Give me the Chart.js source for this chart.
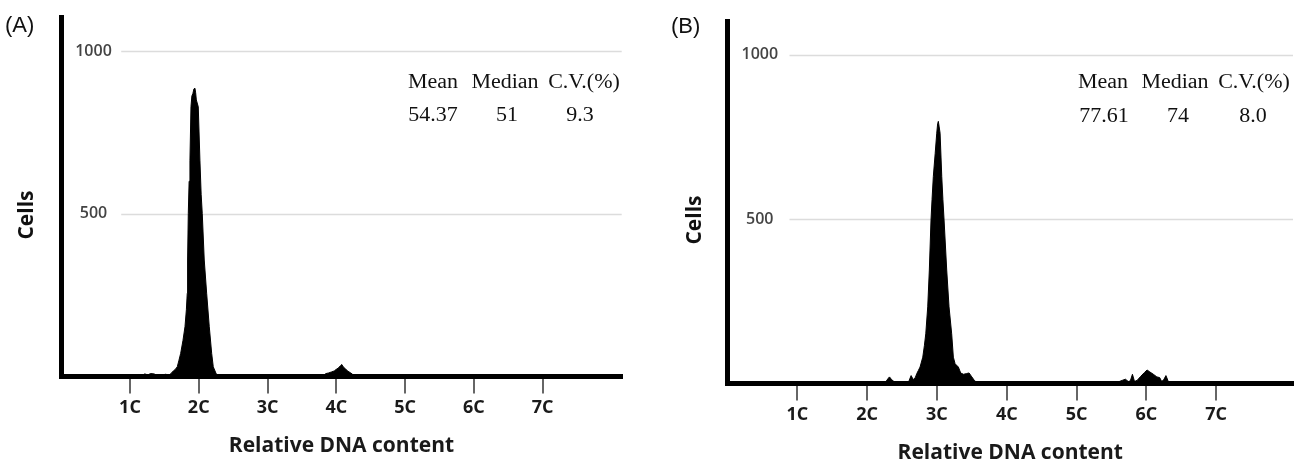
<!DOCTYPE html>
<html>
<head>
<meta charset="utf-8">
<title>Relative DNA content histograms</title>
<script src="https://cdn.jsdelivr.net/npm/chart.js@4.4.1/dist/chart.umd.min.js"></script>
<style>
  html, body {
    margin: 0;
    padding: 0;
    background: #fff;
    width: 1304px;
    height: 464px;
    overflow: hidden;
    position: relative;
  }
  .panel { position: absolute; top: 0; }
  #panel-a { left: 0; width: 650px; height: 464px; }
  #panel-b { left: 660px; width: 644px; height: 466px; }
  .tag {
    position: absolute;
    font: 22px/22px "Liberation Sans", Arial, sans-serif;
    color: #111;
  }
  .ytitle {
    position: absolute;
    font: bold 21px/21px "Open Sans", sans-serif;
    color: #111;
    white-space: nowrap;
    transform: translate(-50%, -50%) rotate(-90deg);
  }
  .stat {
    position: absolute;
    font: 20px/20px "Liberation Serif", "Times New Roman", serif;
    color: #111;
    white-space: nowrap;
    transform: translateX(-50%) scaleX(1.1);
  }
</style>
</head>
<body>
<div id="panel-a" class="panel"><canvas id="chartA"></canvas></div>
<div id="panel-b" class="panel"><canvas id="chartB"></canvas></div>
<span class="tag" style="left:5px; top:14px;">(A)</span>
<span class="tag" style="left:671px; top:15px;">(B)</span>
<span class="ytitle" style="left:25px; top:215px;">Cells</span>
<span class="ytitle" style="left:693px; top:220px;">Cells</span>

<script>
// x in units of C (DNA content), y in number of cells
const dnaTicks = [1, 2, 3, 4, 5, 6, 7];
const cellTicks = [500, 1000];

const histA_dna = [
  0, 1.10, 1.13, 1.17, 1.215, 1.26, 1.30, 1.35, 1.39, 1.43, 1.47, 1.51, 1.54, 1.57,
  1.60, 1.63, 1.66, 1.688, 1.71, 1.737, 1.77, 1.80, 1.82, 1.833, 1.838, 1.848, 1.86,
  1.872, 1.887, 1.90, 1.915, 1.93, 1.945, 1.955, 1.965, 1.993, 2.017, 2.035, 2.051,
  2.080, 2.115, 2.153, 2.188, 2.211, 2.25, 2.29,
  3.78, 3.81, 3.85, 3.89, 3.93, 3.97, 4.00, 4.03, 4.06, 4.08, 4.10, 4.135, 4.17,
  4.21, 4.24, 4.27, 4.31, 4.35, 4.40, 8.15
];
const histA_cells = [
  0, 0, 6, 3, 8, 5, 9, 8, 4, 5, 3, 7, 6, 4,
  10, 17, 22, 30, 48, 71, 110, 153, 205, 256, 358, 501, 600,
  665, 829, 862, 870, 884, 886, 872, 850, 829, 665, 560, 501,
  358, 256, 153, 71, 30, 10, 0,
  0, 3, 9, 11, 14, 17, 22, 26, 33, 37, 30, 23, 16,
  11, 6, 3, 2, 4, 0, 0
];

const histB_dna = [
  0, 2.24, 2.27, 2.30, 2.32, 2.35, 2.40, 2.44, 2.58, 2.60, 2.63, 2.66, 2.69, 2.711,
  2.735, 2.758, 2.797, 2.82, 2.840, 2.868, 2.891, 2.915, 2.93, 2.948, 2.975, 2.997,
  3.010, 3.020, 3.032, 3.045, 3.069, 3.085, 3.102, 3.140, 3.173, 3.211, 3.235, 3.26,
  3.307, 3.34, 3.38, 3.42, 3.46, 3.50, 3.54, 3.58, 3.62, 3.66, 3.70, 3.74,
  5.55, 5.60, 5.66, 5.70, 5.74, 5.77, 5.80, 5.83, 5.87, 5.92, 5.97, 6.01, 6.05,
  6.10, 6.15, 6.19, 6.22, 6.25, 6.28, 6.31, 6.34, 8.10
];
const histB_cells = [
  0, 0, 6, 15, 20, 12, 3, 0, 0, 8, 24, 12, 18, 30,
  40, 50, 80, 115, 151, 233, 345, 497, 560, 629, 700, 761,
  790, 797, 780, 761, 629, 560, 497, 345, 233, 151, 80, 60,
  50, 32, 28, 30, 32, 20, 8, 3, 5, 5, 2, 0,
  0, 5, 10, 13, 6, 8, 28, 6, 10, 22, 33, 41, 35,
  28, 20, 18, 6, 12, 24, 8, 0, 0
];

const statHeaders = ['Mean', 'Median', 'C.V.(%)'];
const statsA = ['54.37', '51', '9.3'];
const statsB = ['77.61', '74', '8.0'];

// grid lines start a little to the right of the axis, after the tick labels
const insetGrid = {
  id: 'insetGrid',
  beforeDatasetsDraw(chart, args, opts) {
    const { ctx, chartArea, scales } = chart;
    const y = scales.y;
    ctx.save();
    ctx.strokeStyle = opts.color;
    ctx.lineWidth = opts.width;
    y.ticks.forEach((tick) => {
      const py = Math.round(y.getPixelForValue(tick.value)) + 0.5;
      ctx.beginPath();
      ctx.moveTo(chartArea.left + opts.inset, py);
      ctx.lineTo(chartArea.right, py);
      ctx.stroke();
    });
    ctx.restore();
  }
};

function makeHistogram(canvasId, dna, cells, opts) {
  const points = dna.map((x, i) => ({ x, y: cells[i] }));
  return new Chart(document.getElementById(canvasId), {
    type: 'line',
    data: {
      datasets: [{
        data: points,
        borderColor: '#000',
        backgroundColor: '#000',
        borderWidth: 1,
        fill: 'origin',
        pointRadius: 0,
        tension: 0
      }]
    },
    options: {
      responsive: true,
      maintainAspectRatio: false,
      animation: false,
      layout: {
        autoPadding: false,
        padding: { top: opts.top, right: opts.right, left: 0, bottom: 0 }
      },
      plugins: {
        legend: { display: false },
        tooltip: { enabled: false },
        insetGrid: { color: '#dcdcdc', width: 1.5, inset: opts.gridInset }
      },
      scales: {
        x: {
          type: 'linear',
          min: 0,
          max: opts.xMax,
          afterBuildTicks: (scale) => {
            scale.ticks = dnaTicks.map((v) => ({ value: v }));
          },
          afterFit: (scale) => {
            scale.height = opts.xHeight;
            scale.paddingLeft = 0;
            scale.paddingRight = 0;
          },
          ticks: {
            callback: (v) => v + 'C',
            color: '#1a1a1a',
            padding: 4,
            maxRotation: 0,
            font: { family: 'Open Sans', size: 18, weight: 'bold' }
          },
          grid: {
            display: true,
            drawOnChartArea: false,
            drawTicks: true,
            tickLength: 17,
            tickWidth: 2,
            tickColor: '#666',
            color: '#666',
            lineWidth: 2
          },
          border: { display: true, color: '#000', width: 5, z: 1 },
          title: {
            display: true,
            text: 'Relative DNA content',
            color: '#1a1a1a',
            padding: { top: 0, bottom: opts.titlePad },
            font: { family: 'Open Sans', size: 21, weight: 'bold' }
          }
        },
        y: {
          min: 0,
          max: opts.yMax,
          afterBuildTicks: (scale) => {
            scale.ticks = cellTicks.map((v) => ({ value: v }));
          },
          afterFit: (scale) => {
            scale.width = opts.yWidth;
            scale.paddingTop = 0;
            scale.paddingBottom = 0;
          },
          ticks: {
            callback: (v) => String(v),
            mirror: true,
            crossAlign: 'center',
            padding: 14,
            color: '#444',
            font: { family: 'Open Sans', size: 16, weight: '600' }
          },
          grid: { display: true, drawTicks: false, color: 'rgba(0,0,0,0)' },
          border: { display: true, color: '#000', width: 5, z: 1 }
        }
      }
    },
    plugins: [insetGrid]
  });
}

function renderStats(headers, values, layout) {
  headers.forEach((text, i) => {
    const head = document.createElement('span');
    head.className = 'stat';
    head.textContent = text;
    head.style.left = layout.headX[i] + 'px';
    head.style.top = layout.headTop + 'px';
    document.body.append(head);

    const val = document.createElement('span');
    val.className = 'stat';
    val.textContent = values[i];
    val.style.left = layout.valX[i] + 'px';
    val.style.top = layout.valTop + 'px';
    document.body.append(val);
  });
}

makeHistogram('chartA', histA_dna, histA_cells, {
  top: 17, right: 28.3, yWidth: 61.2, xHeight: 87.5,
  xMax: 8.15, yMax: 1105, gridInset: 60, titlePad: 5
});
makeHistogram('chartB', histB_dna, histB_cells, {
  top: 21.7, right: 11, yWidth: 67.5, xHeight: 82.5,
  xMax: 8.1, yMax: 1100, gridInset: 62, titlePad: 0
});

renderStats(statHeaders, statsA, {
  headX: [433, 505, 584], headTop: 70.5,
  valX: [432.5, 506.7, 580], valTop: 103.8
});
renderStats(statHeaders, statsB, {
  headX: [1103.3, 1175, 1254], headTop: 70.5,
  valX: [1104, 1178, 1253], valTop: 104.8
});
</script>
</body>
</html>
